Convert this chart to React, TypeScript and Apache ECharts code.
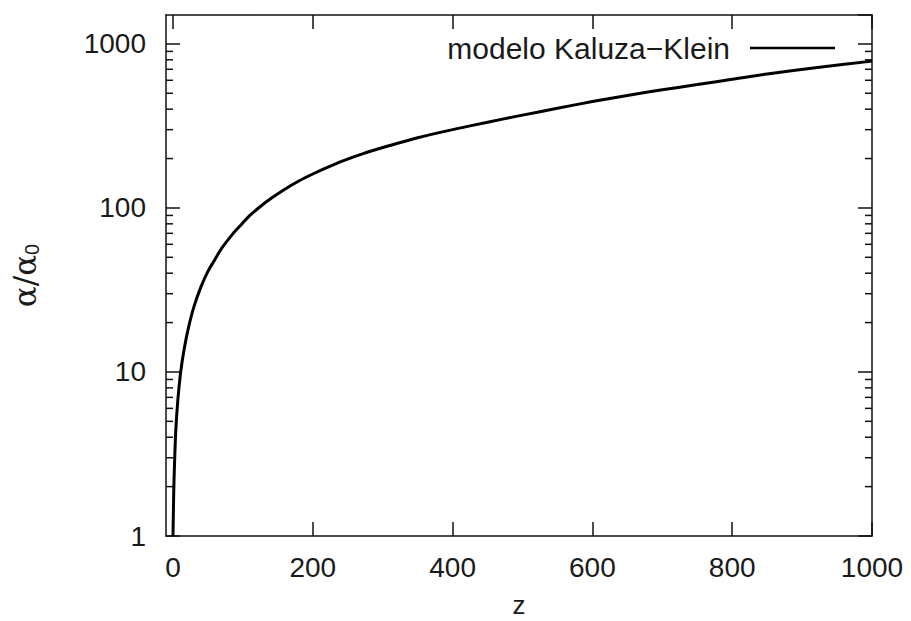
import React, { useEffect, useRef } from 'react';
import * as echarts from 'echarts';

// redshift z
const zValues = [0, 1, 2, 4, 7, 11, 16, 22, 30, 40, 50, 60, 70, 85, 95, 110, 125, 140, 160, 180, 200, 220, 245, 270, 310, 350, 400, 450, 500, 550, 600, 650, 700, 750, 800, 850, 925, 1000];
// alpha / alpha_0
const alphaValues = [1, 1.8, 2.6, 4.4, 6.8, 10, 13.8, 18.5, 25, 33, 41, 48.5, 57, 69, 77, 90, 102, 114, 130, 146, 161, 176, 195, 213, 240, 268, 300, 333, 368, 405, 445, 485, 525, 565, 608, 655, 720, 785];

const xTickValues = [0, 200, 400, 600, 800, 1000];
const yMinorTickValues = [2, 3, 4, 5, 6, 7, 8, 9, 20, 30, 40, 50, 60, 70, 80, 90, 200, 300, 400, 500, 600, 700, 800, 900];
const legendLabel = 'modelo Kaluza\u2212Klein';

const X_MIN = -10;
const X_MAX = 1000;
const Y_MIN = 1;
const Y_MAX = 1500;

const FONT = '"Liberation Sans", Arial, Helvetica, sans-serif';
const TEXT_COLOR = '#1a1a1a';
const LINE_COLOR = '#111';
const FS = 28;

export default function App() {
  const ref = useRef<HTMLDivElement>(null);

  useEffect(() => {
    if (!ref.current) return;
    const chart = echarts.init(ref.current, null, { renderer: 'svg' });
    const axisLine = { show: true, onZero: false, lineStyle: { color: LINE_COLOR, width: 1.5 } };
    const majorTick = { show: true, inside: true, length: 14, lineStyle: { color: LINE_COLOR, width: 1.5 } };

    chart.setOption({
      animation: false,
      backgroundColor: '#fff',
      textStyle: { fontFamily: FONT },
      grid: { left: 166, right: 39, top: 15, bottom: 85, containLabel: false, outerBoundsMode: 'none' },
      legend: {
        data: [legendLabel],
        right: 76,
        top: 33,
        padding: 0,
        align: 'right',
        icon: 'rect',
        itemWidth: 85,
        itemHeight: 2.5,
        textStyle: { fontSize: 30, color: TEXT_COLOR, fontFamily: FONT, lineHeight: 30, padding: [0, 15, 0, 0] },
      },
      xAxis: [
        {
          type: 'value',
          min: X_MIN,
          max: X_MAX,
          position: 'bottom',
          name: 'z',
          nameLocation: 'middle',
          nameGap: 57,
          nameTextStyle: { fontSize: 26, lineHeight: 24, color: TEXT_COLOR, fontFamily: FONT },
          axisLine,
          axisTick: { ...majorTick, customValues: xTickValues },
          axisLabel: {
            customValues: xTickValues,
            fontSize: FS,
            color: TEXT_COLOR,
            margin: 17,
            fontFamily: FONT,
            formatter: (v: number) => String(v),
          },
          splitLine: { show: false },
        },
        {
          type: 'value',
          min: X_MIN,
          max: X_MAX,
          position: 'top',
          axisLine,
          axisTick: { ...majorTick, customValues: xTickValues },
          axisLabel: { show: false },
          splitLine: { show: false },
        },
      ],
      yAxis: [
        {
          type: 'log',
          logBase: 10,
          min: Y_MIN,
          max: Y_MAX,
          position: 'left',
          name: '{a|\u03b1/\u03b1}{b|0}',
          nameLocation: 'middle',
          nameRotate: 90,
          nameGap: 124,
          nameTextStyle: {
            color: TEXT_COLOR,
            rich: {
              a: { fontSize: 31, fontFamily: '"DejaVu Serif", serif', color: TEXT_COLOR },
              b: { fontSize: 20, fontFamily: FONT, color: TEXT_COLOR, padding: [14, 0, 0, 0] },
            },
          },
          axisLine,
          axisTick: majorTick,
          axisLabel: {
            fontSize: FS,
            color: TEXT_COLOR,
            margin: 20,
            showMaxLabel: false,
            fontFamily: FONT,
            formatter: (v: number) => String(Math.round(v)),
          },
          splitLine: { show: false },
          minorTick: { show: false },
        },
        {
          type: 'log',
          logBase: 10,
          min: Y_MIN,
          max: Y_MAX,
          position: 'right',
          axisLine,
          axisTick: majorTick,
          axisLabel: { show: false },
          splitLine: { show: false },
        },
      ],
      series: [
        {
          name: legendLabel,
          type: 'line',
          xAxisIndex: 0,
          yAxisIndex: 0,
          data: zValues.map((z, i) => [z, alphaValues[i]]),
          showSymbol: false,
          smooth: 0.3,
          lineStyle: { color: '#000', width: 3 },
          itemStyle: { color: '#000' },
          silent: true,
        },
        {
          name: 'minor ticks',
          type: 'custom',
          xAxisIndex: 0,
          yAxisIndex: 0,
          silent: true,
          encode: { x: 0, y: 1 },
          data: yMinorTickValues.map((v) => [X_MIN, v]),
          renderItem: (params: any, api: any) => {
            const v = api.value(1);
            const pl = api.coord([X_MIN, v]);
            const pr = api.coord([X_MAX, v]);
            const style = { stroke: LINE_COLOR, lineWidth: 1.5 };
            return {
              type: 'group',
              children: [
                { type: 'line', shape: { x1: pl[0], y1: pl[1], x2: pl[0] + 7, y2: pl[1] }, style },
                { type: 'line', shape: { x1: pr[0] - 7, y1: pr[1], x2: pr[0], y2: pr[1] }, style },
              ],
            };
          },
        },
      ],
    });
    return () => chart.dispose();
  }, []);

  return (
    <div
      ref={ref}
      style={{ position: 'absolute', left: 0, top: 0, width: 911, height: 621, background: '#fff' }}
    />
  );
}
